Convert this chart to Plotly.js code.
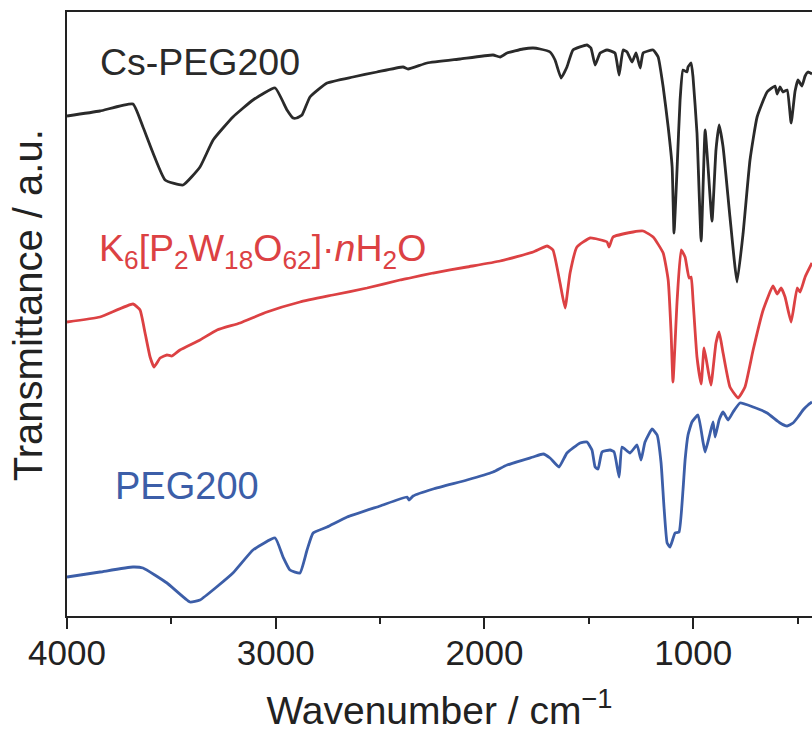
<!DOCTYPE html>
<html>
<head>
<meta charset="utf-8">
<script src="https://cdn.plot.ly/plotly-3.0.1.min.js"></script>
<style>html,body{margin:0;padding:0;background:#fff;}#chart{width:812px;height:736px;}</style>
</head>
<body>
<div id="chart"></div>
<script>
// Wavenumber (cm^-1) and transmittance (a.u., offset stacked)
const csX = [4000,3842,3684,3636,3530,3444,3363,3300,3205,3109,3003,2946,2917,2900,2874,2836,2754,2630,2515,2390,2366,2275,2117,1959,1925,1892,1815,1767,1734,1686,1662,1633,1605,1576,1509,1490,1470,1446,1413,1375,1355,1336,1317,1293,1274,1254,1240,1192,1168,1144,1120,1101,1092,1077,1063,1049,1030,1025,1010,1001,982,962,943,929,910,891,876,857,824,790,761,728,694,646,608,598,584,570,550,531,512,498,479,464,450,431];
const csY = [50.0,50.5,51.2,48.9,43.6,43.1,44.9,47.6,49.9,51.6,52.8,50.6,49.8,49.8,50.1,51.9,53.3,53.9,54.4,54.9,54.7,55.3,55.7,56.1,55.9,56.3,56.7,56.8,56.7,56.4,55.6,53.8,54.9,56.6,57.1,56.8,55.1,56.3,56.6,56.3,54.1,56.6,56.4,55.4,56.3,54.8,56.3,56.6,55.9,52.9,48.9,44.9,38.3,44.9,51.6,54.6,54.4,54.9,55.3,53.9,48.3,37.5,48.6,44.9,39.5,46.6,49.1,46.9,39.9,33.4,38.3,45.6,49.9,52.4,53.0,52.2,52.9,52.4,52.6,49.3,52.5,53.6,53.0,54.0,54.4,54.2];

const kX = [4000,3842,3684,3650,3626,3602,3583,3554,3521,3497,3459,3363,3281,3171,3042,2884,2726,2563,2405,2357,2246,2084,1925,1767,1700,1672,1638,1614,1590,1557,1494,1413,1403,1384,1288,1240,1192,1144,1120,1106,1097,1077,1058,1039,1020,1010,1001,982,962,948,929,915,891,876,857,824,785,752,713,665,618,598,579,560,531,502,488,464,431];
const kY = [29.4,29.9,31.2,30.6,28.3,25.9,24.9,25.8,26.1,26.0,26.6,27.6,28.6,29.3,30.4,31.4,32.1,32.8,33.6,33.8,34.3,34.9,35.5,36.4,37.0,36.6,33.3,30.8,34.3,36.9,37.8,37.4,36.9,37.9,38.4,38.5,37.9,36.3,33.6,28.3,23.4,31.6,36.6,35.9,33.8,33.9,31.6,25.9,23.2,26.8,24.6,23.1,27.3,28.4,26.3,22.9,21.8,22.9,26.6,30.6,33.0,32.2,32.8,31.9,29.4,32.8,32.4,33.9,35.3];

const pegX = [4000,3842,3684,3636,3521,3411,3363,3205,3109,3003,2965,2932,2884,2850,2821,2754,2658,2500,2371,2361,2342,2246,2084,1959,1892,1767,1719,1686,1643,1605,1542,1509,1485,1470,1456,1437,1398,1379,1355,1341,1303,1269,1250,1231,1197,1173,1154,1140,1125,1111,1087,1068,1049,1039,1025,1006,977,953,943,919,905,895,876,857,833,809,776,713,646,584,550,522,498,474,450,431];
const pegY = [3.9,4.4,4.9,4.8,3.3,1.4,1.6,4.3,6.6,7.8,5.9,4.6,4.3,6.6,8.3,8.9,9.9,11.0,11.9,11.6,12.0,12.7,13.6,14.4,15.1,15.9,16.2,15.8,14.9,16.3,17.3,17.4,16.6,14.9,14.7,16.4,16.6,16.4,13.9,16.9,16.3,17.1,15.6,17.4,18.7,18.1,15.3,10.9,7.3,6.9,8.3,8.4,12.6,15.6,18.1,19.4,20.1,17.4,16.4,18.3,19.4,17.9,19.6,20.4,19.6,20.4,21.3,20.9,20.3,19.3,19.0,19.3,19.9,20.6,21.1,21.4];

const seriesNames = ["Cs-PEG200", "K<sub>6</sub>[P<sub>2</sub>W<sub>18</sub>O<sub>62</sub>]·<i>n</i>H<sub>2</sub>O", "PEG200"];
const tickVals = [4000, 3000, 2000, 1000];
const tickText = ["4000", "3000", "2000", "1000"];

const colBlack = "#2a2a2a", colRed = "#dc4143", colBlue = "#3c5ea8";
const FONT = "'Liberation Sans', Arial, sans-serif";

const mk = (x, y, c) => ({x: x, y: y, type: "scatter", mode: "lines",
  line: {color: c, width: 2.8, shape: "spline", smoothing: 0.4}, hoverinfo: "skip", showlegend: false});

const data = [mk(csX, csY, colBlack), mk(kX, kY, colRed), mk(pegX, pegY, colBlue)];

const layout = {
  width: 812, height: 736,
  margin: {l: 67, r: 0, t: 12, b: 120},
  paper_bgcolor: "#ffffff", plot_bgcolor: "#ffffff",
  font: {family: FONT, color: "#222"},
  xaxis: {
    range: [4000, 431], autorange: false,
    showgrid: false, zeroline: false,
    showline: true, linecolor: "#222", linewidth: 2, mirror: true,
    ticks: "outside", ticklen: 11, tickwidth: 2, tickcolor: "#222",
    tickvals: tickVals, ticktext: tickText,
    ticklabelstandoff: -6,
    minor: {dtick: 500, tick0: 0, ticks: "outside", ticklen: 6, tickwidth: 2, tickcolor: "#222"},
    tickfont: {family: FONT, size: 35, color: "#222"},
    title: {text: "Wavenumber / cm<sup>−1</sup>", font: {family: FONT, size: 39, color: "#222"}, standoff: 26}
  },
  yaxis: {
    range: [0, 60.4], autorange: false,
    showgrid: false, zeroline: false,
    showline: true, linecolor: "#222", linewidth: 2, mirror: false,
    ticks: "", showticklabels: false
  },
  annotations: [
    {text: "Transmittance / a.u.", xref: "paper", yref: "paper", x: -0.052, y: 0.515,
     xanchor: "center", yanchor: "middle", textangle: -90, showarrow: false,
     font: {family: FONT, size: 40, color: "#222"}},
    {text: seriesNames[0], xref: "paper", yref: "paper", x: 0.042, y: 0.917,
     xanchor: "left", yanchor: "middle", showarrow: false, font: {family: FONT, size: 37.5, color: colBlack}},
    {text: seriesNames[1], xref: "paper", yref: "paper", x: 0.040, y: 0.605,
     xanchor: "left", yanchor: "middle", showarrow: false, font: {family: FONT, size: 37.5, color: colRed}},
    {text: seriesNames[2], xref: "paper", yref: "paper", x: 0.062, y: 0.215,
     xanchor: "left", yanchor: "middle", showarrow: false, font: {family: FONT, size: 38, color: colBlue}}
  ]
};

Plotly.newPlot("chart", data, layout, {staticPlot: true, displayModeBar: false});
</script>
</body>
</html>
